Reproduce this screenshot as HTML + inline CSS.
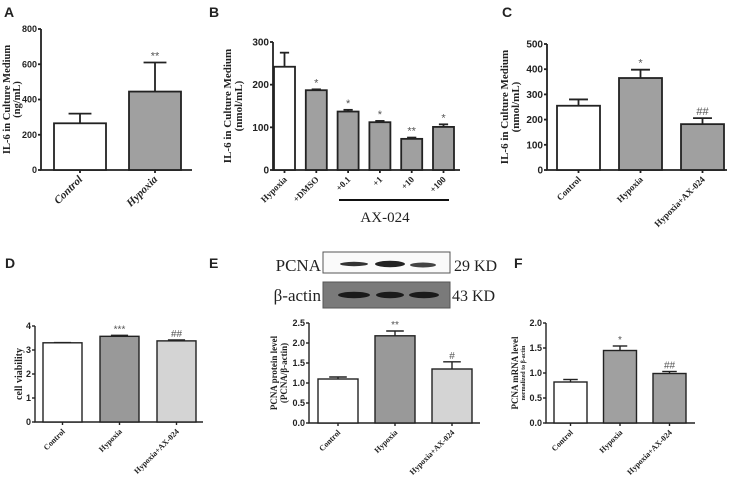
<!DOCTYPE html>
<html><head><meta charset="utf-8"><style>
html,body{margin:0;padding:0;background:#fff;width:739px;height:482px;overflow:hidden}
svg{display:block}
.t{font-family:"Liberation Sans",sans-serif;font-weight:bold;fill:#222}
.s{font-family:"Liberation Serif",serif;font-weight:bold;fill:#222}
</style></head><body>
<svg id="fig" width="739" height="482" viewBox="0 0 739 482" xmlns="http://www.w3.org/2000/svg">
<g>
<text class="t" x="4" y="17" font-size="14">A</text>
<text class="t" x="209" y="17" font-size="14">B</text>
<text class="t" x="502" y="17" font-size="14">C</text>
<text class="t" x="5" y="268" font-size="14">D</text>
<text class="t" x="209" y="268" font-size="14">E</text>
<text class="t" x="514" y="268" font-size="14">F</text>
</g>
<g>
<rect x="323" y="252" width="127" height="21" fill="#fafafa" stroke="#555" stroke-width="1"/>
<rect x="323" y="282" width="127" height="26" fill="#7a7a7a" stroke="#555" stroke-width="1"/>
<ellipse cx="354" cy="264" rx="14" ry="2.2" fill="#333"/>
<ellipse cx="390" cy="264" rx="15" ry="3.2" fill="#222"/>
<ellipse cx="423" cy="265" rx="13" ry="2.5" fill="#444"/>
<ellipse cx="354" cy="295" rx="16" ry="3.2" fill="#1a1a1a"/>
<ellipse cx="390" cy="295" rx="14" ry="3.2" fill="#1a1a1a"/>
<ellipse cx="424" cy="295" rx="15" ry="3.2" fill="#1a1a1a"/>
<text x="321" y="271" text-anchor="end" font-family="Liberation Serif,serif" font-size="17" fill="#222">PCNA</text>
<text x="321" y="301" text-anchor="end" font-family="Liberation Serif,serif" font-size="17" fill="#222">β-actin</text>
<text x="454" y="271" font-family="Liberation Serif,serif" font-size="16" fill="#222">29 KD</text>
<text x="452" y="301" font-family="Liberation Serif,serif" font-size="16" fill="#222">43 KD</text>
</g>
</svg>
<script>
const aCats=["Control","Hypoxia"], aVals=[265,445], aErr=[320,610], aSig=["","**"], aTicks=[0,200,400,600,800];
const bCats=["Hypoxia","+DMSO","+0.1","+1","+10","+100"], bVals=[242,187,137,112,73,101], bErr=[275,189,141,115,76,107], bSig=["","*","*","*","**","*"], bTicks=[0,100,200,300];
const cCats=["Control","Hypoxia","Hypoxia+AX-024"], cVals=[255,365,182], cErr=[280,398,206], cSig=["","*","##"], cTicks=[0,100,200,300,400,500];
const dCats=["Control","Hypoxia","Hypoxia+AX-024"], dVals=[3.3,3.57,3.38], dErr=[3.31,3.61,3.42], dSig=["","***","##"], dTicks=[0,1,2,3,4];
const eCats=["Control","Hypoxia","Hypoxia+AX-024"], eVals=[1.1,2.18,1.35], eErr=[1.15,2.3,1.53], eSig=["","**","#"], eTicks=["0.0","0.5","1.0","1.5","2.0","2.5"];
const fCats=["Control","Hypoxia","Hypoxia+AX-024"], fVals=[0.82,1.45,0.99], fErr=[0.87,1.54,1.03], fSig=["","*","##"], fTicks=["0.0","0.5","1.0","1.5","2.0"];

const svg=document.getElementById('fig');
const NS="http://www.w3.org/2000/svg";
function el(tag,attrs,parent,txt){const e=document.createElementNS(NS,tag);for(const k in attrs)e.setAttribute(k,attrs[k]);if(txt!==undefined)e.textContent=txt;parent.appendChild(e);return e;}

function panel(p){
  const g=el('g',{},svg);
  
  
  const max=+p.ticks[p.ticks.length-1];
  const y=v=>p.y0-(v/max)*(p.y0-p.yTop);
  const lw=p.lw;
  const ax=el('path',{d:`M${p.ax} ${p.yTop}V${p.y0}H${p.xEnd}`,stroke:'#222','stroke-width':lw,fill:'none'},g);
  
  
  p.ticks.forEach(t=>{
    const yy=y(+t);
    el('line',{x1:p.ax-3,x2:p.ax,y1:yy,y2:yy,stroke:'#222','stroke-width':lw},g);
    const tl=el('text',{x:p.ax-4,y:yy+p.fs*0.35,'text-anchor':'end','font-size':p.fs,class:'t'},g,t);
    
    
  });
  p.cats.forEach((c,i)=>{
    const cx=p.x0+i*p.step, x=cx-p.bw/2;
    el('line',{x1:cx,x2:cx,y1:p.y0,y2:p.y0+3,stroke:'#222','stroke-width':lw},g);
    const e1=el('line',{x1:cx,x2:cx,y1:y(p.vals[i]),y2:y(p.err[i]),stroke:'#222','stroke-width':lw},g);
    
    
    el('line',{x1:cx-p.bw*0.22,x2:cx+p.bw*0.22,y1:y(p.err[i]),y2:y(p.err[i]),stroke:'#222','stroke-width':lw},g);
    const r=el('rect',{x:x,y:y(p.vals[i]),width:p.bw,height:p.y0-y(p.vals[i]),fill:p.fills[i],stroke:'#222','stroke-width':lw},g);
    
    
    if(p.sig[i]){
      const s=el('text',{x:cx,y:y(p.err[i])-3,'text-anchor':'middle','font-size':p.sfs,fill:'#555','font-family':'Liberation Sans,sans-serif'},g,p.sig[i]);
      
      
    }
    const lx=cx+3, ly=p.y0+10;
    const lb=el('text',{x:lx,y:ly,'text-anchor':'end','font-size':p.lfs,class:'s','font-style':p.italic?'italic':'normal',transform:`rotate(-45 ${lx} ${ly})`},g,c);
    
    
  });
  const cy=(p.y0+p.yTop)/2;
  p.title.forEach((tl,k)=>{
    const tx=p.tx[k];
    const t=el('text',{x:tx,y:cy,'text-anchor':'middle','font-size':p.tfs[k],class:'s',transform:`rotate(-90 ${tx} ${cy})`},g,tl);
    
    
  });
}
const W='#fff',G='#a0a0a0',L='#d4d4d4';
panel({name:'panel-a-chart',cats:aCats,vals:aVals,err:aErr,sig:aSig,ticks:aTicks,ax:41,yTop:29,y0:170,xEnd:192,x0:80,step:75,bw:52,fills:[W,G],fs:9,sfs:11,lfs:11,italic:true,lw:1.8,title:['IL-6 in Culture Medium','(ng/mL)'],tx:[10,20],tfs:[10.5,10.5]});
panel({name:'panel-b-chart',cats:bCats,vals:bVals,err:bErr,sig:bSig,ticks:bTicks,ax:273,yTop:42,y0:170,xEnd:460,x0:284.5,step:31.8,bw:21,fills:[W,G,G,G,G,G],fs:10,sfs:11,lfs:9,lw:1.8,title:['IL-6 in Culture Medium','(nmol/mL)'],tx:[231,242],tfs:[11,11]});
panel({name:'panel-c-chart',cats:cCats,vals:cVals,err:cErr,sig:cSig,ticks:cTicks,ax:547,yTop:44,y0:170,xEnd:727,x0:578.5,step:62,bw:43,fills:[W,G,G],fs:10,sfs:11,lfs:9,lw:1.8,title:['IL-6 in Culture Medium','(nmol/mL)'],tx:[508,519],tfs:[11,11]});
panel({name:'panel-d-chart',cats:dCats,vals:dVals,err:dErr,sig:dSig,ticks:dTicks,ax:35,yTop:326,y0:422,xEnd:203,x0:62.5,step:57,bw:39,fills:[W,'#999',L],fs:9,sfs:10,lfs:8,lw:1.4,title:['cell viability'],tx:[22],tfs:[10]});
panel({name:'panel-e-chart',cats:eCats,vals:eVals,err:eErr,sig:eSig,ticks:eTicks,ax:309,yTop:323,y0:423,xEnd:480,x0:338,step:57,bw:40,fills:[W,'#999',L],fs:9,sfs:10,lfs:8,lw:1.4,title:['PCNA protein level','(PCNA/β-actin)'],tx:[277,287],tfs:[9,9]});
panel({name:'panel-f-chart',cats:fCats,vals:fVals,err:fErr,sig:fSig,ticks:fTicks,ax:546,yTop:323,y0:423,xEnd:695,x0:570.5,step:49.5,bw:33,fills:[W,G,G],fs:9,sfs:10,lfs:8,lw:1.4,title:['PCNA mRNA level','normalized to β-actin'],tx:[518,525],tfs:[9,6]});
const gl=el('line',{x1:339,x2:449,y1:200,y2:200,stroke:'#111','stroke-width':2},svg);


const gt=el('text',{x:385,y:222,'text-anchor':'middle','font-size':15,'font-family':'Liberation Serif,serif',fill:'#222'},svg,'AX-024');


</script>
</body></html>
